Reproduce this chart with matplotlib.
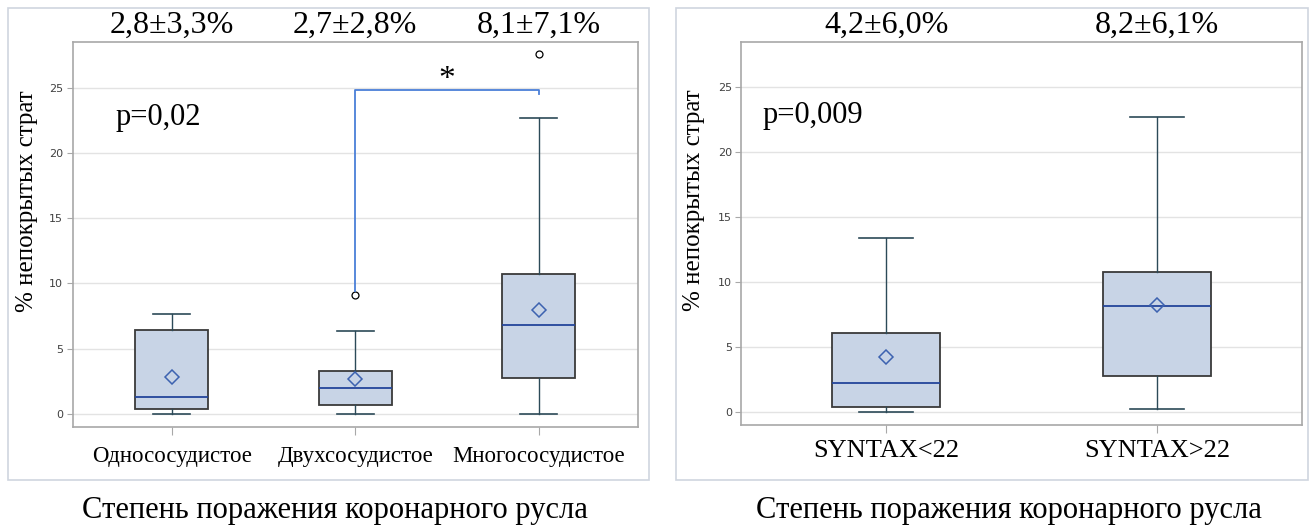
import numpy as np
import matplotlib
matplotlib.use('Agg')
import matplotlib.pyplot as plt
from matplotlib.patches import Rectangle

plt.rcParams['font.family'] = ['Liberation Serif', 'DejaVu Serif']

# left panel: coronary lesion extent
groups_1 = ['Однососудистое', 'Двухсосудистое', 'Многососудистое']
whislo_1 = [0.0, 0.0, 0.0]
q1_1 = [0.38, 0.69, 2.75]
med_1 = [1.3, 2.0, 6.83]
q3_1 = [6.4, 3.3, 10.76]
whishi_1 = [7.65, 6.35, 22.7]
mean_1 = [2.8, 2.68, 8.0]
fliers_1 = [[], [9.1], [27.6]]
titles_1 = ['2,8±3,3%', '2,7±2,8%', '8,1±7,1%']

# right panel: SYNTAX score
groups_2 = ['SYNTAX<22', 'SYNTAX>22']
whislo_2 = [0.0, 0.25]
q1_2 = [0.41, 2.77]
med_2 = [2.23, 8.15]
q3_2 = [6.05, 10.78]
whishi_2 = [13.37, 22.7]
mean_2 = [4.23, 8.2]
fliers_2 = [[], []]
titles_2 = ['4,2±6,0%', '8,2±6,1%']

yticks = [0, 5, 10, 15, 20, 25]
xlab = 'Степень поражения коронарного русла'

fill_c = '#c8d4e6'
box_edge = '#3a3a3a'
whisk_c = '#2c4a58'
med_c = '#23459a'
mean_c = '#3d62b0'
spine_c = '#a8a8a8'

fig = plt.figure(figsize=(13.14, 5.28), dpi=100)

# panel frames
for x0, w in [(0.0058, 0.4881), (0.5145, 0.4809)]:
    fig.patches.append(Rectangle((x0, 0.0909), w, 0.894, transform=fig.transFigure,
                                 fill=False, edgecolor='#cfd5df', lw=1.2))


def draw_panel(ax, names, wlo, q1, med, q3, whi, means, fliers, titles, xlim, cat_fs, cat_pad):
    stats = []
    for i in range(len(names)):
        stats.append(dict(med=med[i], q1=q1[i], q3=q3[i], whislo=wlo[i], whishi=whi[i],
                          mean=means[i], fliers=fliers[i], label=names[i]))
    pos = np.arange(len(names))
    ax.bxp(stats, positions=pos, widths=0.4, patch_artist=True, showmeans=True,
           capwidths=0.2,
           boxprops=dict(facecolor=fill_c, edgecolor=box_edge, lw=1.3),
           whiskerprops=dict(color=whisk_c, lw=1.0),
           capprops=dict(color=whisk_c, lw=1.2),
           medianprops=dict(color=med_c, lw=1.3),
           meanprops=dict(marker='D', markerfacecolor='none', markeredgecolor=mean_c,
                          markersize=7, markeredgewidth=1.1),
           flierprops=dict(marker='o', markerfacecolor='none', markeredgecolor='black',
                           markersize=5, markeredgewidth=0.9))
    ax.set_xlim(*xlim)
    ax.set_ylim(-1.0, 28.5)
    ax.set_yticks(yticks)
    ax.set_yticklabels([str(t) for t in yticks], family='DejaVu Sans', fontsize=8, color='#404040')
    ax.set_xticks(pos)
    ax.set_xticklabels(names, fontsize=cat_fs)
    ax.tick_params(axis='x', length=6, color=spine_c, pad=cat_pad)
    ax.tick_params(axis='y', length=4, color=spine_c, pad=3)
    ax.yaxis.grid(True, color='#e3e3e3', lw=1.0)
    ax.set_axisbelow(True)
    for s in ax.spines.values():
        s.set_color(spine_c)
        s.set_linewidth(1.2)
    ax.set_ylabel('% непокрытых страт', fontsize=18)
    for p, t in zip(pos, titles):
        ax.text(p, 1.005, t, transform=ax.get_xaxis_transform(), ha='center', va='bottom',
                fontsize=23)


ax1 = fig.add_axes([0.0554, 0.1913, 0.4298, 0.7292])
draw_panel(ax1, groups_1, whislo_1, q1_1, med_1, q3_1, whishi_1, mean_1, fliers_1,
           titles_1, (-0.54, 2.54), 16.5, 8)
ax1.yaxis.set_label_coords(-0.062, 0.587)
ax1.text(-0.307, 22.7, 'p=0,02', fontsize=22, ha='left', va='center')
# significance bracket between group 2 and 3
ax1.plot([1, 1, 2, 2], [9.4, 24.8, 24.8, 24.5], color='#4a7fd8', lw=1.3)
ax1.text(1.5, 25.6, '*', fontsize=24, ha='center', va='center')

ax2 = fig.add_axes([0.5643, 0.1951, 0.4263, 0.726])
draw_panel(ax2, groups_2, whislo_2, q1_2, med_2, q3_2, whishi_2, mean_2, fliers_2,
           titles_2, (-0.535, 1.535), 19, 5)
ax2.yaxis.set_label_coords(-0.066, 0.587)
ax2.text(-0.458, 22.8, 'p=0,009', fontsize=22, ha='left', va='center')

fig.text(0.255, 0.034, xlab, fontsize=22, ha='center', va='center')
fig.text(0.768, 0.034, xlab, fontsize=22, ha='center', va='center')

fig.savefig('out.png', dpi=100)
